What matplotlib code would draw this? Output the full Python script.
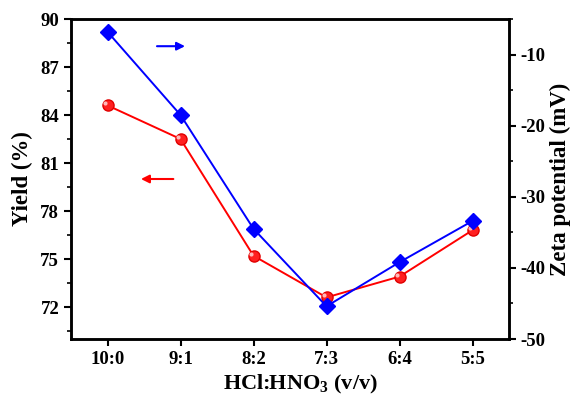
import matplotlib
matplotlib.use('Agg')
import matplotlib.pyplot as plt
from matplotlib.ticker import MultipleLocator, AutoMinorLocator

# data
ratios = ['10:0', '9:1', '8:2', '7:3', '6:4', '5:5']
yield_pct = [84.6, 82.5, 75.2, 72.6, 73.9, 76.8]
zeta_mv = [-6.8, -18.5, -34.5, -45.4, -39.2, -33.4]

plt.rcParams['font.family'] = 'Liberation Serif'
plt.rcParams['font.weight'] = 'bold'
plt.rcParams['axes.unicode_minus'] = False
plt.rcParams['mathtext.fontset'] = 'custom'
plt.rcParams['mathtext.rm'] = 'Liberation Serif:bold'
plt.rcParams['mathtext.bf'] = 'Liberation Serif:bold'

fig = plt.figure(figsize=(5.72, 3.97), dpi=100)
ax = fig.add_axes([71 / 572, 1 - 339 / 397, 438 / 572, 320 / 397])
ax2 = ax.twinx()

x = list(range(len(ratios)))
ax.plot(x, yield_pct, color='red', lw=1.4, marker='o', ms=8,
        mfc='#ff2020', mec='#e00000', zorder=3)
# small highlight on the spheres
ax.plot([v - 0.04 for v in x], [v + 0.12 for v in yield_pct], ls='none',
        marker='o', ms=3, mfc='#ffb8b8', mec='none', zorder=4)
ax2.plot(x, zeta_mv, color='blue', lw=1.4, marker='D', ms=8.5,
         mfc='blue', mec='blue', zorder=3)

ax.set_xlim(-0.5, 5.5)
ax.set_ylim(70, 90)
ax2.set_ylim(-50, -5)
ax.set_xticks(x)
ax.set_xticklabels(ratios)
ax.yaxis.set_major_locator(MultipleLocator(3))
ax.yaxis.set_minor_locator(AutoMinorLocator(2))
ax2.yaxis.set_major_locator(MultipleLocator(10))
ax2.yaxis.set_minor_locator(AutoMinorLocator(2))

for a in (ax, ax2):
    for s in a.spines.values():
        s.set_linewidth(1.8)
    a.tick_params(which='major', direction='out', length=5, width=1.5, labelsize=13.5)
    a.tick_params(which='minor', direction='out', length=3, width=1.2)
ax.tick_params(axis='x', which='minor', bottom=False)
ax.tick_params(axis='y', right=False)

ax.set_ylabel('Yield (%)', fontsize=16.5, fontweight='bold', labelpad=5)
ax2.set_ylabel('Zeta potential (mV)', fontsize=16.5, fontweight='bold', labelpad=3)
ax.set_xlabel('HCl:HNO$_3$ (v/v)', fontsize=16, fontweight='bold')
ax.xaxis.set_label_coords(0.523, -0.106, transform=ax.transAxes)
ax.xaxis.label.set_va('top')

# direction arrows
ax.annotate('', xy=(1.1, 88.3), xytext=(0.64, 88.3),
            arrowprops=dict(arrowstyle='-|>', color='blue', lw=1.5, mutation_scale=12))
ax.annotate('', xy=(0.42, 80.0), xytext=(0.94, 80.0),
            arrowprops=dict(arrowstyle='-|>', color='red', lw=1.5, mutation_scale=12))

fig.savefig('out.png', dpi=100)
